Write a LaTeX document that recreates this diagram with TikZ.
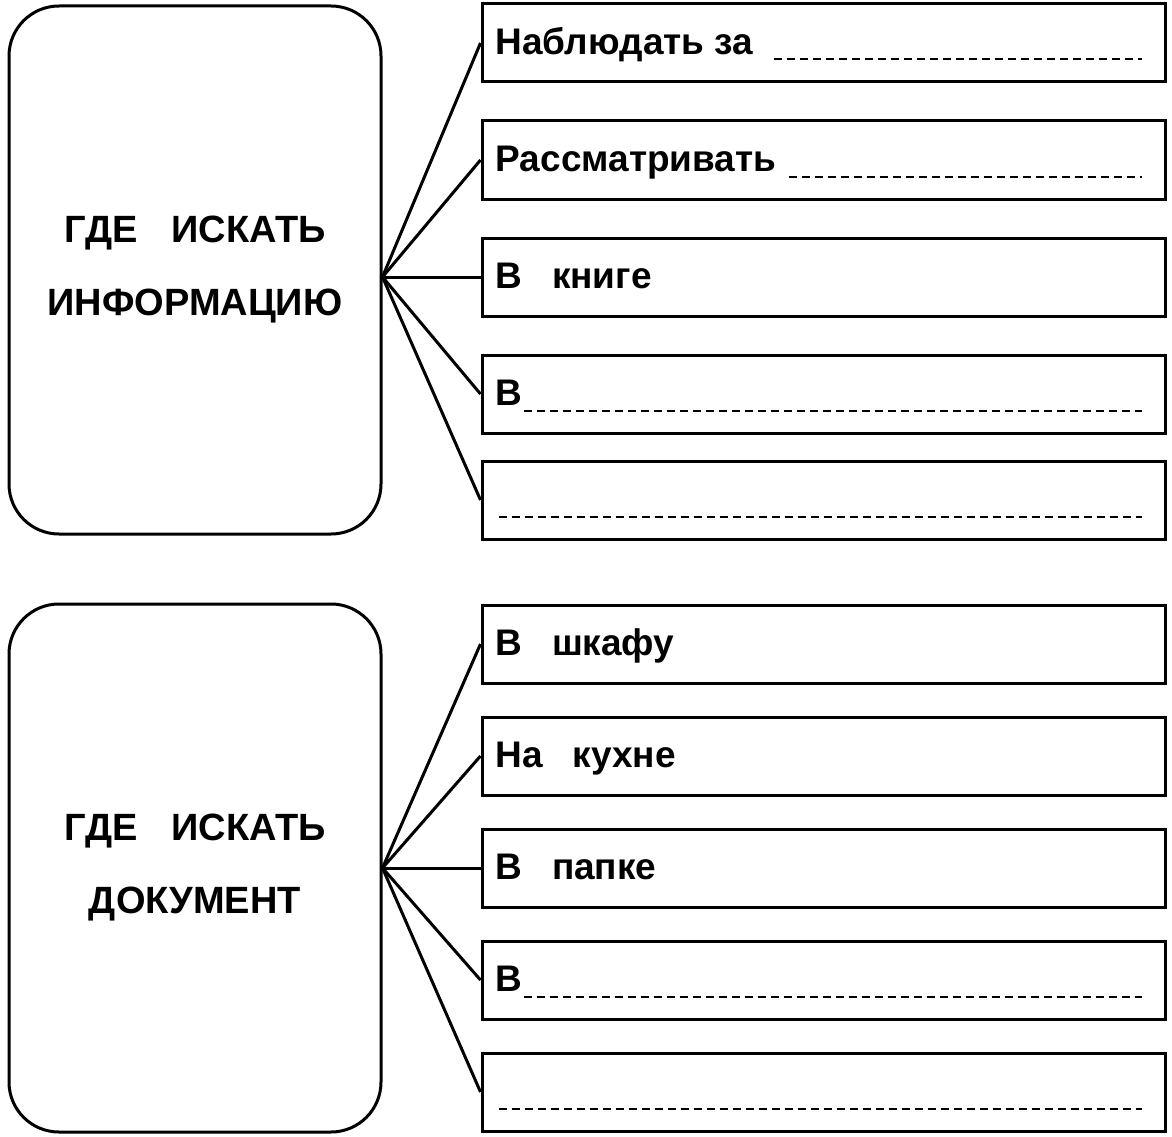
\documentclass[tikz,border=0pt]{standalone}
\usepackage{fontspec}
\setmainfont{Liberation Sans}
\usetikzlibrary{calc}
\begin{document}
\begin{tikzpicture}[x=1pt,y=-1pt,
  bigbox/.style={draw, line width=3pt, rounded corners=50pt, minimum width=372pt, minimum height=528pt, inner sep=0pt, align=center, font=\fontsize{38}{73}\selectfont\bfseries},
  rbox/.style={draw, line width=3pt, minimum width=683pt, minimum height=78pt, inner sep=0pt},
  lbl/.style={anchor=base west, inner sep=0pt, font=\fontsize{37}{44}\selectfont\bfseries},
  dsh/.style={line width=2pt, dash pattern=on 8pt off 5pt},
  conn/.style={line width=3pt}]
\useasboundingbox (0,0) rectangle (1172,1137);
% top group
\node[bigbox] (L1) at (195,270) {ГДЕ\hspace{0.9em}ИСКАТЬ\\ИНФОРМАЦИЮ};
\node[rbox] (a1) at (823.5,43) {};
\node[rbox] (a2) at (823.5,160) {};
\node[rbox] (a3) at (823.5,277) {};
\node[rbox] (a4) at (823.5,394) {};
\node[rbox] (a5) at (823.5,500) {};
\coordinate (f1) at (L1.east |- a3.west);
\node[lbl] (ta1) at ($(a1.north west)+(15,52)$) {Наблюдать за};
\node[lbl] (ta2) at ($(a2.north west)+(15,52)$) {Рассматривать};
\node[lbl] (ta3) at ($(a3.north west)+(15,52)$) {В\hspace{0.8em}книге};
\node[lbl] (ta4) at ($(a4.north west)+(15,52)$) {В};
\draw[dsh] ($(a1.north west)+(293,57)$) -- ($(a1.north east)+(-25,57)$);
\draw[dsh] ($(a2.north west)+(308,57)$) -- ($(a2.north east)+(-25,57)$);
\draw[dsh] ($(a4.north west)+(43,57)$) -- ($(a4.north east)+(-25,57)$);
\draw[dsh] ($(a5.north west)+(18,57)$) -- ($(a5.north east)+(-25,57)$);
\foreach \i in {1,...,5} \draw[conn] (f1) -- (a\i.west);
% bottom group
\node[bigbox] (L2) at (195,868) {ГДЕ\hspace{0.9em}ИСКАТЬ\\ДОКУМЕНТ};
\node[rbox] (b1) at (823.5,644) {};
\node[rbox] (b2) at (823.5,756) {};
\node[rbox] (b3) at (823.5,868) {};
\node[rbox] (b4) at (823.5,980) {};
\node[rbox] (b5) at (823.5,1092) {};
\coordinate (f2) at (L2.east |- b3.west);
\node[lbl] (tb1) at ($(b1.north west)+(15,52)$) {В\hspace{0.8em}шкафу};
\node[lbl] (tb2) at ($(b2.north west)+(15,52)$) {На\hspace{0.8em}кухне};
\node[lbl] (tb3) at ($(b3.north west)+(15,52)$) {В\hspace{0.8em}папке};
\node[lbl] (tb4) at ($(b4.north west)+(15,52)$) {В};
\draw[dsh] ($(b4.north west)+(43,57)$) -- ($(b4.north east)+(-25,57)$);
\draw[dsh] ($(b5.north west)+(18,57)$) -- ($(b5.north east)+(-25,57)$);
\foreach \i in {1,...,5} \draw[conn] (f2) -- (b\i.west);
\end{tikzpicture}
\end{document}
